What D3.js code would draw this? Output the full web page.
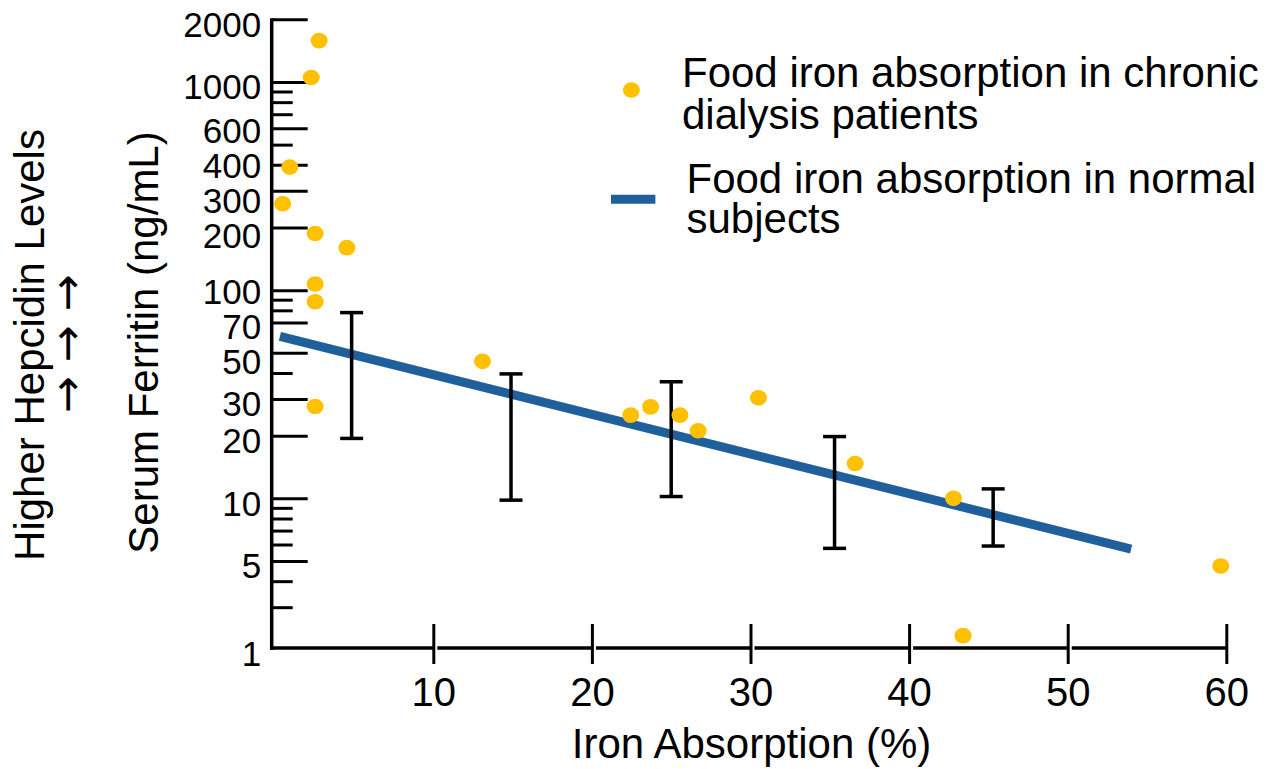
<!DOCTYPE html>
<html>
<head>
<meta charset="utf-8">
<script src="https://cdn.jsdelivr.net/npm/d3@7"></script>
<style>
  html, body { margin: 0; padding: 0; background: #fff; }
  svg { display: block; }
  text { font-family: "Liberation Sans", Arial, Helvetica, sans-serif; fill: #000; }
</style>
</head>
<body>
<svg id="chart" width="1272" height="769"></svg>
<script>
// Chronic dialysis patients: food iron absorption (%) and serum ferritin (ng/mL)
const patientAbsorption = [2.8, 2.3, 0.95, 0.5, 2.55, 4.55, 2.55, 2.55, 2.55, 13.1,
                           22.45, 23.7, 25.55, 26.7, 30.5, 36.6, 42.8, 59.65, 43.4];
const patientFerritin   = [1580, 1050, 390, 260, 187, 160, 107, 88, 27.6, 45.5,
                           25.1, 27.5, 25.1, 21.1, 30.4, 14.7, 10, 4.73, 2.19];

// Normal subjects: fitted line end points
const normalLineAbsorption = [0.33, 54.0];
const normalLineFerritin   = [60, 5.7];

// Normal subjects: ferritin range per absorption band
const rangeAbsorption = [4.85, 14.9, 25, 35.3, 45.3];
const rangeHigh       = [78, 39.6, 36.3, 19.8, 11.1];
const rangeLow        = [19.4, 9.8, 10.2, 5.75, 5.9];

// Axis ticks
const xTicks = [10, 20, 30, 40, 50, 60];
const yMajorTicks  = [2000, 1000, 600, 400, 300, 200, 100, 70, 50, 30, 20, 10, 5];
const yMajorLabels = ["2000", "1000", "600", "400", "300", "200", "100", "70", "50", "30", "20", "10", "5"];
const yMinorTicks  = [900, 800, 700, 500, 90, 80, 40, 9, 8, 7, 6, 4, 3];
const yFloor = 1.91;
const yFloorLabel = "1";

const legendLabels = [
  ["Food iron absorption in chronic", "dialysis patients"],
  ["Food iron absorption in normal", "subjects"]
];

const YELLOW = "#FFC000";
const BLUE = "#1F5F9B";

const svg = d3.select("#chart");
svg.append("rect").attr("width", 1272).attr("height", 769).attr("fill", "#fff");

const x = d3.scaleLinear().domain([0, 60]).range([274.7, 1226.3]);
const y = d3.scaleLog().domain([yFloor, 2000]).range([648, 19.3]);
const axisX = x(0) - 3;   // vertical axis position
const axisY = y(yFloor);  // horizontal axis position

// Spread label baselines so neighbouring labels keep a minimum gap
function spread(positions, gap) {
  const p = positions.slice();
  for (let it = 0; it < 300; it++) {
    for (let i = 1; i < p.length; i++) {
      const d = p[i] - p[i - 1];
      if (d < gap) {
        const s = (gap - d) / 2;
        p[i - 1] -= s;
        p[i] += s;
      }
    }
  }
  return p;
}

// ---- Y axis ----
const yLabelValues = yMajorTicks.concat([yFloor]);
const yLabelText = yMajorLabels.concat([yFloorLabel]);
const labelDrop = 17;
const labelBase = spread(yLabelValues.map(v => y(v) + labelDrop), 35);

const yMajor = svg.append("g")
  .attr("transform", `translate(${axisX},0)`)
  .call(d3.axisLeft(y)
    .tickValues(yLabelValues)
    .tickSizeInner(-36)
    .tickSizeOuter(0)
    .tickPadding(10.5)
    .tickFormat((d, i) => yLabelText[i]));
yMajor.attr("font-size", 35).attr("font-family", null);
yMajor.select(".domain").remove();
yMajor.selectAll(".tick line").attr("stroke", "#000").attr("stroke-width", 3)
  .filter(d => d === yFloor).remove();
yMajor.selectAll(".tick text")
  .attr("dy", 0)
  .attr("y", (d, i) => labelBase[i] - y(d))
  .attr("fill", "#000");

const yMinor = svg.append("g")
  .attr("transform", `translate(${axisX},0)`)
  .call(d3.axisLeft(y).tickValues(yMinorTicks).tickSizeInner(-21).tickSizeOuter(0).tickFormat(""));
yMinor.select(".domain").remove();
yMinor.selectAll(".tick line").attr("stroke", "#000").attr("stroke-width", 3);

svg.append("line")
  .attr("x1", axisX).attr("x2", axisX)
  .attr("y1", y(2000) - 1).attr("y2", axisY + 1.75)
  .attr("stroke", "#000").attr("stroke-width", 3.5);

// ---- X axis ----
const xAxis = svg.append("g")
  .attr("transform", `translate(0,${axisY})`)
  .call(d3.axisBottom(x).tickValues(xTicks).tickSizeInner(16).tickSizeOuter(0).tickPadding(14));
xAxis.attr("font-size", 40).attr("font-family", null);
xAxis.select(".domain").remove();
xAxis.selectAll(".tick line").attr("y1", -24).attr("stroke", "#000").attr("stroke-width", 3);
xAxis.selectAll(".tick text").attr("fill", "#000");

// axis line drawn in pieces between ticks
const xBreaks = [0].concat(xTicks);
svg.append("g").selectAll("line")
  .data(d3.pairs(xBreaks))
  .join("line")
  .attr("x1", d => d[0] === 0 ? axisX - 1.75 : x(d[0]) + 4)
  .attr("x2", d => x(d[1]))
  .attr("y1", axisY).attr("y2", axisY)
  .attr("stroke", "#000").attr("stroke-width", 3.5);

// ---- Axis titles ----
svg.append("text")
  .attr("x", 751.5).attr("y", 758)
  .attr("text-anchor", "middle").attr("font-size", 42)
  .text("Iron Absorption (%)");

svg.append("text")
  .attr("transform", "translate(157.5,342.5) rotate(-90)")
  .attr("text-anchor", "middle").attr("font-size", 42)
  .text("Serum Ferritin (ng/mL)");

svg.append("text")
  .attr("transform", "translate(43.5,345) rotate(-90)")
  .attr("text-anchor", "middle").attr("font-size", 42)
  .text("Higher Hepcidin Levels");

svg.append("text")
  .attr("transform", "translate(82,344) rotate(-90)")
  .attr("text-anchor", "middle").attr("font-size", 44)
  .style("font-family", "'DejaVu Sans', sans-serif")
  .text("→ → →");

// ---- Normal subjects fitted line ----
const lineGen = d3.line().x(d => x(d[0])).y(d => y(d[1]));
svg.append("path")
  .datum(d3.zip(normalLineAbsorption, normalLineFerritin))
  .attr("d", lineGen)
  .attr("fill", "none").attr("stroke", BLUE).attr("stroke-width", 9);

// ---- Normal subjects ranges ----
const ranges = d3.zip(rangeAbsorption, rangeLow, rangeHigh);
const capHalf = 11.5;
const rg = svg.append("g").attr("stroke", "#000").attr("stroke-width", 3.5);
rg.selectAll(".stem").data(ranges).join("line").attr("class", "stem")
  .attr("x1", d => x(d[0])).attr("x2", d => x(d[0]))
  .attr("y1", d => y(d[2])).attr("y2", d => y(d[1]));
rg.selectAll(".capHi").data(ranges).join("line").attr("class", "capHi")
  .attr("x1", d => x(d[0]) - capHalf).attr("x2", d => x(d[0]) + capHalf)
  .attr("y1", d => y(d[2])).attr("y2", d => y(d[2]));
rg.selectAll(".capLo").data(ranges).join("line").attr("class", "capLo")
  .attr("x1", d => x(d[0]) - capHalf).attr("x2", d => x(d[0]) + capHalf)
  .attr("y1", d => y(d[1])).attr("y2", d => y(d[1]));

// ---- Dialysis patients ----
svg.append("g").selectAll("ellipse")
  .data(d3.zip(patientAbsorption, patientFerritin))
  .join("ellipse")
  .attr("cx", d => x(d[0])).attr("cy", d => y(d[1]))
  .attr("rx", 8.5).attr("ry", 7.8)
  .attr("fill", YELLOW);

// ---- Legend ----
const legend = svg.append("g");
legend.append("ellipse")
  .attr("cx", 631.4).attr("cy", 90).attr("rx", 8.5).attr("ry", 7.8).attr("fill", YELLOW);
legend.append("line")
  .attr("x1", 611).attr("x2", 655.4).attr("y1", 199.3).attr("y2", 199.3)
  .attr("stroke", BLUE).attr("stroke-width", 9);

const legendPos = [{x: 682, y: 86.7, dy: 42.6}, {x: 686.5, y: 193.3, dy: 40}];
legendLabels.forEach((lines, i) => {
  const t = legend.append("text")
    .attr("x", legendPos[i].x).attr("y", legendPos[i].y).attr("font-size", 42);
  lines.forEach((s, j) => {
    t.append("tspan").attr("x", legendPos[i].x)
      .attr("dy", j === 0 ? 0 : legendPos[i].dy).text(s);
  });
});
</script>
</body>
</html>
